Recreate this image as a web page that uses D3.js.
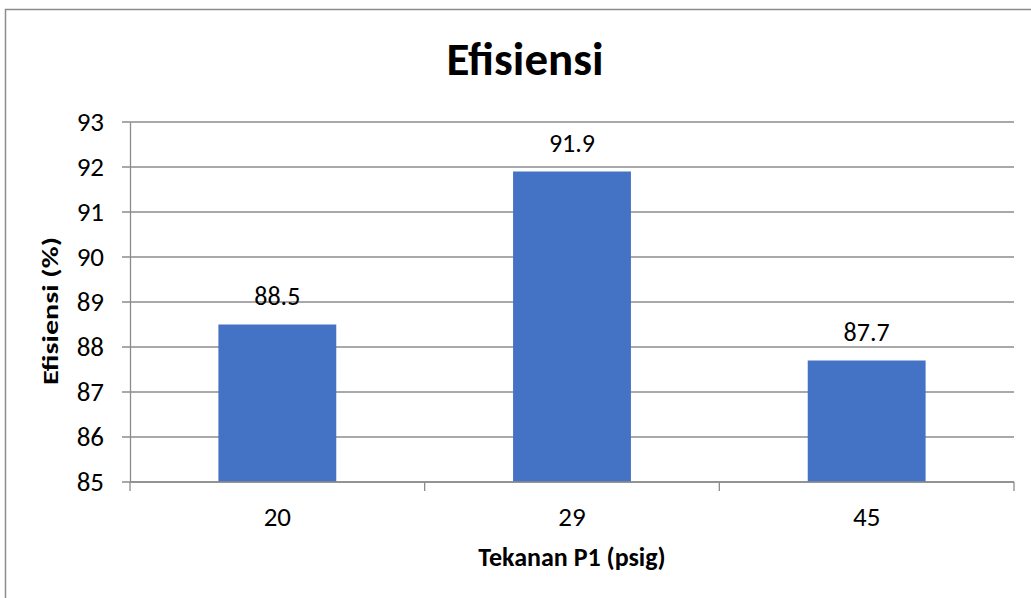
<!DOCTYPE html>
<html>
<head>
<meta charset="utf-8">
<script src="https://cdn.jsdelivr.net/npm/d3@7"></script>
<style>
    body { margin: 0; background: #fff; }
    svg { display: block; font-family: Calibri, Carlito, "Open Sans", "Liberation Sans", sans-serif; }
</style>
</head>
<body>
<svg id="chart" width="1031" height="598"></svg>
<script>
let categories = ['20', '29', '45'];
let efisiensi = [88.5, 91.9, 87.7];
let y_ticks = [85, 86, 87, 88, 89, 90, 91, 92, 93];

function draw(selector) {
    let svg = d3.select(selector),
        margin = {top: 122, right: 17, bottom: 116, left: 130},
        width = +svg.attr('width') - margin.left - margin.right,
        height = +svg.attr('height') - margin.top - margin.bottom;

    // outer chart border
    svg.append('rect')
        .attr('x', 5.5).attr('y', 9.5)
        .attr('width', 1040).attr('height', 600)
        .attr('fill', 'none').attr('stroke', '#8c8c8c').attr('stroke-width', 1.5);

    let g = svg.append('g').attr('transform', 'translate(' + margin.left + ',' + margin.top + ')');

    let x = d3.scaleBand().domain(categories).range([0, width]).paddingInner(0.6).paddingOuter(0.3);
    let y = d3.scaleLinear().domain([85, 93]).range([height, 0]);

    // gridlines
    g.selectAll('.grid')
        .data(y_ticks)
        .enter().append('line')
        .attr('x1', -8).attr('x2', width)
        .attr('y1', d => y(d)).attr('y2', d => y(d))
        .attr('stroke', '#8c8c8c').attr('stroke-width', 1.3);

    // y axis
    let yAxis = g.append('g').call(d3.axisLeft(y).tickValues(y_ticks).tickSize(0).tickPadding(26));
    yAxis.attr('font-family', null);
    yAxis.select('.domain').attr('stroke', '#8c8c8c').attr('stroke-width', 1.3);
    yAxis.selectAll('text').attr('font-size', 27).attr('fill', '#000');

    // bars
    g.selectAll('.bar')
        .data(efisiensi)
        .enter().append('rect')
        .attr('class', 'bar')
        .attr('x', (d, i) => x(categories[i]))
        .attr('width', x.bandwidth())
        .attr('y', d => y(d))
        .attr('height', d => height - y(d))
        .attr('fill', '#4472c4');

    // data labels
    g.selectAll('.label')
        .data(efisiensi)
        .enter().append('text')
        .attr('x', (d, i) => x(categories[i]) + x.bandwidth() / 2)
        .attr('y', d => y(d) - 20)
        .attr('text-anchor', 'middle')
        .attr('font-size', 26)
        .text(d => d);

    // x axis
    let step = width / categories.length;
    let xAxis = g.append('g').attr('transform', 'translate(0,' + height + ')');
    xAxis.append('line').attr('x1', 0).attr('x2', width)
        .attr('stroke', '#8c8c8c').attr('stroke-width', 1.3);
    xAxis.selectAll('.tick')
        .data(d3.range(categories.length + 1))
        .enter().append('line')
        .attr('x1', d => d * step).attr('x2', d => d * step)
        .attr('y1', 0).attr('y2', 9)
        .attr('stroke', '#8c8c8c').attr('stroke-width', 1.3);
    xAxis.selectAll('.xlab')
        .data(categories)
        .enter().append('text')
        .attr('x', d => x(d) + x.bandwidth() / 2)
        .attr('y', 44)
        .attr('text-anchor', 'middle')
        .attr('font-size', 27)
        .text(d => d);

    // titles
    svg.append('text')
        .attr('x', 525).attr('y', 75)
        .attr('text-anchor', 'middle')
        .attr('font-size', 47).attr('font-weight', 'bold')
        .text('Efisiensi');

    svg.append('text')
        .attr('x', 572).attr('y', 566)
        .attr('text-anchor', 'middle')
        .attr('font-size', 26).attr('font-weight', 'bold')
        .text('Tekanan P1 (psig)');

    svg.append('text')
        .attr('transform', 'translate(58,311) rotate(-90)')
        .attr('text-anchor', 'middle')
        .attr('font-size', 23).attr('font-weight', 'bold')
        .attr('textLength', 148).attr('lengthAdjust', 'spacingAndGlyphs')
        .text('Efisiensi (%)');
}

draw('#chart');
</script>
</body>
</html>
